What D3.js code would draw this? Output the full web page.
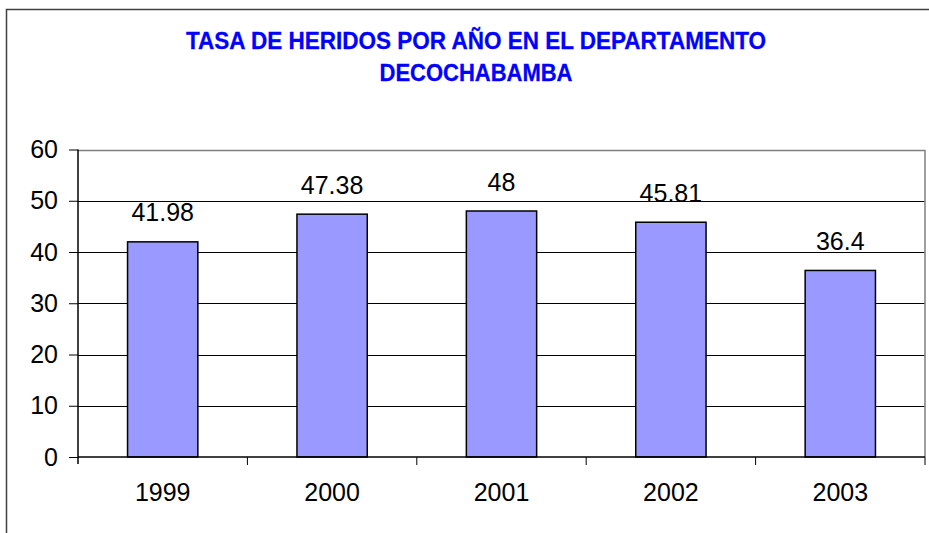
<!DOCTYPE html>
<html>
<head>
<meta charset="utf-8">
<script src="https://cdn.jsdelivr.net/npm/d3@7"></script>
<style>
  html, body { margin: 0; padding: 0; background: #fff; }
  svg { display: block; font-family: "Liberation Sans", Arial, sans-serif; }
</style>
</head>
<body>
<svg id="chart" width="929" height="533"></svg>
<script>
// Injury rate per year, Cochabamba department
const years = ["1999", "2000", "2001", "2002", "2003"];
const rates = [41.98, 47.38, 48, 45.81, 36.4];
const yTicks = [0, 10, 20, 30, 40, 50, 60];
const titleLines = ["TASA DE HERIDOS POR AÑO EN EL DEPARTAMENTO", "DECOCHABAMBA"];

const svg = d3.select("#chart");
const plot = { left: 78, right: 925, top: 149.5, bottom: 457 };
const labelSize = 25;

// Outer frame (only left and top edges fall inside the canvas)
svg.append("rect")
  .attr("x", 6.5).attr("y", 9.5)
  .attr("width", 1000).attr("height", 1000)
  .attr("fill", "none").attr("stroke", "#404040").attr("stroke-width", 1.5);

// Title
const titleSpec = [
  { y: 48.5, len: 580 },
  { y: 81, len: 193 }
];
titleLines.forEach((t, i) => {
  svg.append("text")
    .attr("x", 476).attr("y", titleSpec[i].y)
    .attr("text-anchor", "middle")
    .attr("font-size", 23.5).attr("font-weight", "bold")
    .attr("fill", "#0000FF")
    .attr("stroke", "#0000FF").attr("stroke-width", 0.3)
    .attr("textLength", titleSpec[i].len)
    .attr("lengthAdjust", "spacingAndGlyphs")
    .text(t);
});

const x = d3.scaleBand().domain(years).range([plot.left, plot.right]).paddingInner(0.585).paddingOuter(0.2925);
const xOuter = d3.scaleBand().domain(years).range([plot.left, plot.right]);
const y = d3.scaleLinear().domain([0, 60]).range([plot.bottom, plot.top]);

// Gridlines
svg.append("g")
  .selectAll("line")
  .data(yTicks.filter(d => d > 0 && d < 60))
  .join("line")
  .attr("x1", plot.left).attr("x2", plot.right)
  .attr("y1", d => Math.round(y(d)) + 0.5).attr("y2", d => Math.round(y(d)) + 0.5)
  .attr("stroke", "#000").attr("stroke-width", 1);

// Plot border (top and right)
svg.append("path")
  .attr("d", `M${plot.left},${Math.round(plot.top) + 0.5}H${plot.right}V${plot.bottom}`)
  .attr("fill", "none").attr("stroke", "#808080").attr("stroke-width", 1.5);

const rows = years.map((yr, i) => ({ yr, v: rates[i] }));

// Bars
svg.append("g")
  .selectAll("rect")
  .data(rows)
  .join("rect")
  .attr("x", d => x(d.yr))
  .attr("width", x.bandwidth())
  .attr("y", d => y(d.v))
  .attr("height", d => plot.bottom - y(d.v))
  .attr("fill", "#9999FF")
  .attr("stroke", "#000").attr("stroke-width", 1.5);

// Value labels
svg.append("g")
  .selectAll("text")
  .data(rows)
  .join("text")
  .attr("x", d => x(d.yr) + x.bandwidth() / 2)
  .attr("y", d => y(d.v) - 20.5)
  .attr("text-anchor", "middle")
  .attr("font-size", labelSize)
  .attr("fill", "#000")
  .text(d => String(d.v));

// Y axis
const yAxis = svg.append("g")
  .attr("transform", `translate(${plot.left},0)`)
  .call(d3.axisLeft(y).tickValues(yTicks).tickSize(9).tickPadding(11).tickFormat(d3.format("d")));
yAxis.select(".domain").attr("stroke", "#000").attr("stroke-width", 1.5).attr("d", `M0,${plot.top}V${plot.bottom + 7}`);
yAxis.selectAll(".tick line").attr("stroke", "#000");
yAxis.selectAll(".tick text")
  .attr("font-size", labelSize).attr("fill", "#000")
  .attr("font-family", "\"Liberation Sans\", Arial, sans-serif");

// X axis
const xAxis = svg.append("g")
  .attr("transform", `translate(0,${plot.bottom})`)
  .call(d3.axisBottom(xOuter).tickSize(0).tickPadding(26));
xAxis.select(".domain").attr("stroke", "#000").attr("stroke-width", 1.5).attr("d", `M${plot.left},0H${plot.right}`);
xAxis.selectAll(".tick text")
  .attr("font-size", labelSize).attr("fill", "#000")
  .attr("font-family", "\"Liberation Sans\", Arial, sans-serif");
// Category separator ticks
xAxis.append("g")
  .selectAll("line")
  .data(years.slice(1).concat(["end"]))
  .join("line")
  .attr("x1", d => d === "end" ? plot.right : xOuter(d))
  .attr("x2", d => d === "end" ? plot.right : xOuter(d))
  .attr("y1", 0).attr("y2", 8)
  .attr("stroke", "#000").attr("stroke-width", 1);
</script>
</body>
</html>
